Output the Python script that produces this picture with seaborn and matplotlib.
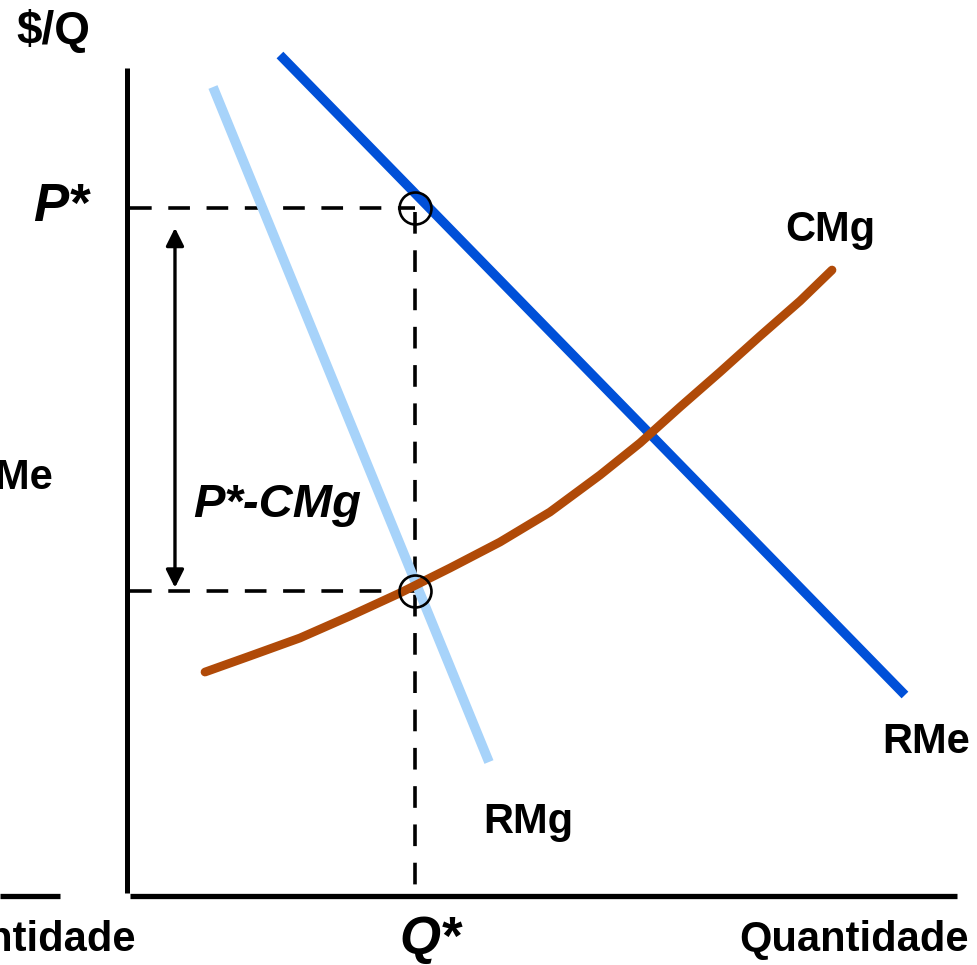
import numpy as np
import pandas as pd
import matplotlib
matplotlib.use("Agg")
import matplotlib.pyplot as plt
import seaborn as sns

# ---- data (economic units, axes 0..10) ----
rme_q = [1.843, 9.373]
rme_p = [10.157, 2.418]
rmg_q = [1.036, 4.361]
rmg_p = [9.770, 1.608]
cmg_q = [0.940, 1.482, 2.084, 2.687, 3.289, 3.892, 4.494, 5.096, 5.699,
         6.181, 6.663, 7.145, 7.627, 8.108, 8.494]
cmg_p = [2.696, 2.890, 3.108, 3.374, 3.652, 3.954, 4.268, 4.631, 5.078,
         5.466, 5.901, 6.324, 6.759, 7.182, 7.557]
q_star = 3.47
p_star = 8.307
cmg_at_q = 3.676

sns.set_style("white")
plt.rcParams['font.family'] = ['Liberation Sans', 'DejaVu Sans']
plt.rcParams['text.color'] = 'black'

W, H = 978, 965
fig = plt.figure(figsize=(W / 100, H / 100), dpi=100)
fig.patch.set_facecolor("white")
ax = fig.add_axes([127 / W, 70 / H, 830 / W, 827 / H])
ax.set_xlim(0, 10)
ax.set_ylim(0, 10)
ax.axis("off")

rme = pd.DataFrame({"q": rme_q, "p": rme_p})
rmg = pd.DataFrame({"q": rmg_q, "p": rmg_p})
cmg = pd.DataFrame({"q": cmg_q, "p": cmg_p})

# axes lines
ax.plot([0, 0], [0.02, 10], color="black", lw=3.6, clip_on=False, solid_capstyle="butt")
ax.plot([0.036, 10], [-0.01, -0.01], color="black", lw=3.8, clip_on=False, solid_capstyle="butt")
ax.plot([-1.53, -0.807], [-0.01, -0.01], color="black", lw=3.8, clip_on=False, solid_capstyle="butt")

# dashed guide lines
dash = dict(color="black", lw=2.6, clip_on=False, dashes=(6, 4.6))
ax.plot([0.04, q_star], [p_star, p_star], **dash)
ax.plot([0.04, q_star], [cmg_at_q, cmg_at_q], **dash)
ax.plot([q_star, q_star], [p_star - 0.05, 0.0], **dash)

# curves
sns.lineplot(data=rmg, x="q", y="p", ax=ax, color="#A7D3FA", lw=7, legend=False)
sns.lineplot(data=rme, x="q", y="p", ax=ax, color="#0050D8", lw=6.8, legend=False)
sns.lineplot(data=cmg, x="q", y="p", ax=ax, color="#B04A08", lw=6.3, legend=False,
             sort=False)
for ln in ax.lines:
    ln.set_clip_on(False)
ax.lines[-1].set_solid_capstyle("round")
ax.lines[-1].set_solid_joinstyle("round")
ax.lines[-2].set_solid_capstyle("butt")
ax.lines[-3].set_solid_capstyle("butt")

# circles
ax.plot([q_star, q_star], [p_star, cmg_at_q], ls="none", marker="o", ms=23,
        mfc="none", mec="black", mew=1.9, clip_on=False)

# double arrow
ax.annotate("", xy=(0.578, p_star - 0.24), xytext=(0.578, cmg_at_q + 0.04),
            arrowprops=dict(arrowstyle="<|-|>", lw=2.4, color="black",
                            mutation_scale=27, shrinkA=0, shrinkB=0))

def ftext(px, py, s, **kw):
    fig.text(px / W, 1 - py / H, s, fontweight="bold", color="black", **kw)

ftext(16, 32, "$/Q", fontsize=33, ha="left", va="center")
ftext(33, 207, "P*", fontsize=38, style="italic", ha="left", va="center")
ftext(430, 940, "Q*", fontsize=38, style="italic", ha="center", va="center")
ftext(193, 505, "P*-CMg", fontsize=34, style="italic", ha="left", va="center")
ftext(785, 230, "CMg", fontsize=30, ha="left", va="center")
ftext(882, 742, "RMe", fontsize=30, ha="left", va="center")
ftext(483, 822, "RMg", fontsize=30, ha="left", va="center")
ftext(969, 940, "Quantidade", fontsize=30, ha="right", va="center")
ftext(136, 940, "Quantidade", fontsize=30, ha="right", va="center")
ftext(53, 478, "RMe", fontsize=30, ha="right", va="center")

fig.savefig("out.png", dpi=100, facecolor="white")
